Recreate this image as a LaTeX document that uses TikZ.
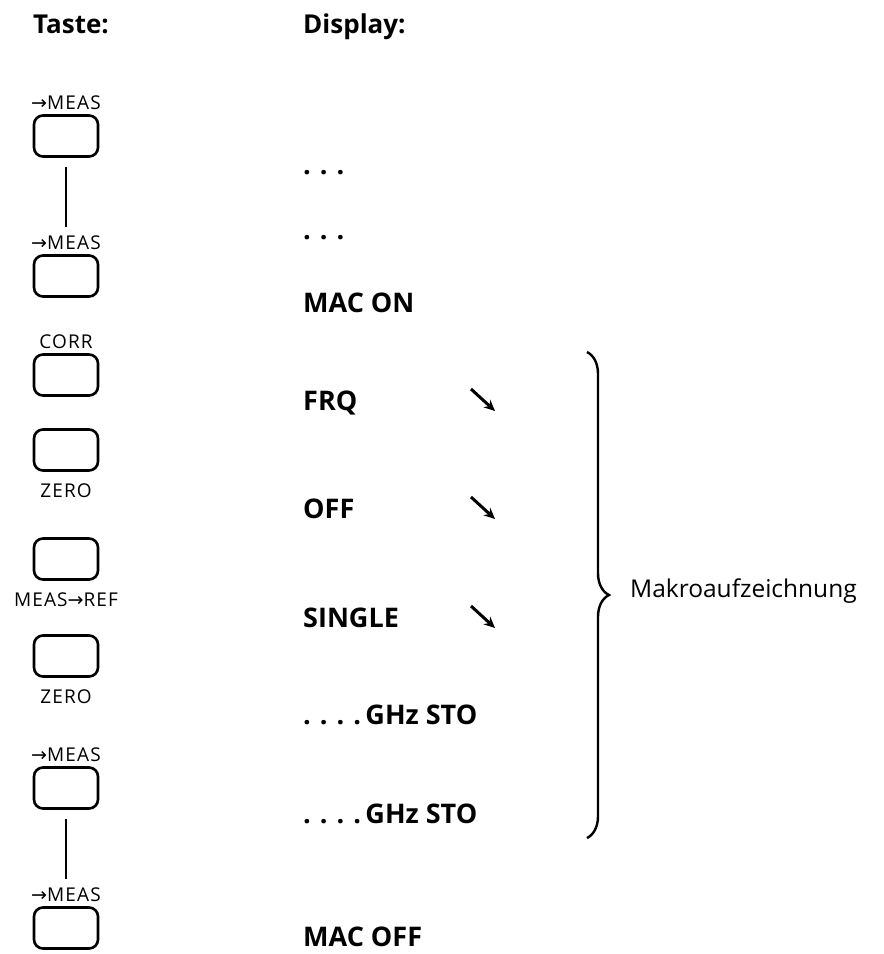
\documentclass[tikz,border=0pt]{standalone}
\usepackage{fontspec}
\setmainfont{Open Sans}
\newfontfamily\arrowfont{DejaVu Sans}
\usetikzlibrary{arrows.meta,calc,decorations.pathreplacing}
\newcommand{\tomeas}{{\arrowfont→}MEAS}

\begin{document}
\begin{tikzpicture}[x=1pt, y=-1pt, >=Stealth,
    keybox/.style={draw, line width=2.6pt, rounded corners=9pt, minimum width=64pt, minimum height=41pt, inner sep=0pt},
    keylabel/.style={font=\fontsize{19}{19}\selectfont\addfontfeatures{LetterSpace=6}, inner sep=0pt},
    head/.style={anchor=base west, font=\fontsize{26}{26}\selectfont\bfseries, inner sep=0pt},
    disp/.style={anchor=base west, font=\fontsize{27}{27}\selectfont\bfseries, inner sep=0pt}]
    \useasboundingbox (0,0) rectangle (884,954);
    % column heads
    \node[head] (taste) at (33,33) {Taste:};
    \node[head] (display) at (303,33) {Display:};
    % keys
    \foreach \i/\y/\txt in {1/136/\tomeas, 2/276/\tomeas, 3/375/CORR, 7/788/\tomeas, 8/928/\tomeas}
        \node[keybox, label={[keylabel, name=l\i, label distance=4pt]above:\txt}] (k\i) at (66,\y) {};
    \foreach \i/\y/\txt in {4/450/ZERO, 5/559/{MEAS{\arrowfont→}REF}, 6/656/ZERO}
        \node[keybox, label={[keylabel, name=l\i, label distance=12pt]below:\txt}] (k\i) at (66,\y) {};
    \foreach \a/\b in {1/2, 7/8}
        \draw[line width=2.6pt, shorten <=9pt, shorten >=9pt] (k\a.south) -- (k\a.south |- l\b.north);
    % display
    \node[disp] (dots1) at (303,174) {.\,\,.\,\,.};
    \node[disp] (dots2) at (303,239) {.\,\,.\,\,.};
    \node[disp] (macon) at (303,312) {MAC ON};
    \node[disp] (frq) at (303,410) {FRQ};
    \node[disp] (off) at (303,518) {OFF};
    \node[disp] (single) at (303,627) {SINGLE};
    \node[disp] (sto1) at (303,724) {.\,\,.\,\,.\,\,.\,GHz STO};
    \node[disp] (sto2) at (303,823) {.\,\,.\,\,.\,\,.\,GHz STO};
    \node[disp] (macoff) at (303,946) {MAC OFF};
    \foreach \n in {frq,off,single}
        \draw[-{Stealth[length=11pt,width=10pt]}, line width=3pt] ($(\n.base west)+(168,-21)$) -- ++(24,22);
    % macro recording
    \draw[line width=2.4pt, decorate, decoration={brace, amplitude=22pt}] (587,352) coordinate (btop) -- (587,838) coordinate (bbot);
    \node[anchor=base west, font=\fontsize{24.5}{24.5}\selectfont, inner sep=0pt] (makro) at (630,597) {Makroaufzeichnung};
\end{tikzpicture}
\end{document}
